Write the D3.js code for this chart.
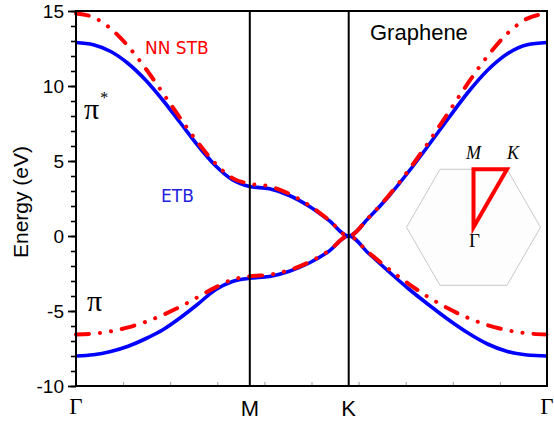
<!DOCTYPE html>
<html>
<head>
<meta charset="utf-8">
<script src="https://cdn.jsdelivr.net/npm/d3@7"></script>
<style>
  html, body { margin: 0; padding: 0; background: #fff; }
  svg { display: block; }
</style>
</head>
<body>
<svg id="chart" width="554" height="424"></svg>
<script>
// Path coordinate along Γ → M → K → Γ (0 = Γ, 1 = Γ)
const kPath = [
  0, 0.0369, 0.0738, 0.1107, 0.1476, 0.1845, 0.2214, 0.2583, 0.2952, 0.3321, 0.369,
  0.411, 0.453, 0.495, 0.537, 0.579,
  0.6211, 0.6632, 0.7053, 0.7474, 0.7895, 0.8316, 0.8737, 0.9158, 0.9579, 1.0
];

// Nearest-neighbour simple tight binding (eV)
const stbUpper = [
  14.84, 14.58, 13.82, 12.65, 11.17, 9.53, 7.85, 6.25, 4.86, 3.86, 3.48,
  3.31, 2.81, 2.04, 1.07, 0,
  1.22, 2.67, 4.35, 6.20, 8.18, 10.16, 11.99, 13.50, 14.49, 14.84
];
const stbLower = [
  -6.56, -6.51, -6.35, -6.09, -5.73, -5.26, -4.71, -4.08, -3.44, -2.91, -2.69,
  -2.58, -2.27, -1.74, -0.98, 0,
  -1.10, -2.18, -3.17, -4.06, -4.82, -5.45, -5.94, -6.28, -6.49, -6.56
];

// Extended tight binding (eV)
const etbUpper = [
  12.9, 12.75, 12.3, 11.5, 10.4, 9.05, 7.55, 6.05, 4.72, 3.75, 3.3,
  3.15, 2.7, 1.98, 1.04, 0,
  1.2, 2.62, 4.25, 6.0, 7.8, 9.55, 11.05, 12.15, 12.75, 12.9
];
const etbLower = [
  -8.0, -7.92, -7.7, -7.35, -6.85, -6.25, -5.45, -4.55, -3.6, -3.03, -2.82,
  -2.7, -2.35, -1.8, -1.02, 0,
  -1.15, -2.35, -3.5, -4.55, -5.55, -6.45, -7.2, -7.7, -7.93, -8.0
];

// High-symmetry points
const symLabels = ["Γ", "M", "K", "Γ"];
const symK = [0, 0.369, 0.579, 1];

const yTicks = [-10, -5, 0, 5, 10, 15];
const yMinorTicks = d3.range(-10, 15.5, 1);
const xMinorTicks = d3.range(1, 10).map(i => i / 10);

const svg = d3.select("#chart");
const plotLeft = 76, plotRight = 547, plotTop = 11, plotBottom = 386;

const x = d3.scaleLinear().domain([0, 1]).range([plotLeft, plotRight]);
const y = d3.scaleLinear().domain([-10, 15]).range([plotBottom, plotTop]);

const line = (arr) => d3.line()
  .x((d, i) => x(kPath[i]))
  .y(d => y(d))
  .curve(d3.curveMonotoneX)(arr);

const curves = svg.append("g").attr("fill", "none");
[etbUpper, etbLower].forEach(arr => {
  curves.append("path")
    .attr("d", line(arr))
    .attr("stroke", "#0000ff")
    .attr("stroke-width", 3.6);
});
[stbUpper, stbLower].forEach(arr => {
  curves.append("path")
    .attr("d", line(arr))
    .attr("stroke", "#ff0000")
    .attr("stroke-width", 4)
    .attr("stroke-linecap", "round")
    .attr("stroke-dasharray", "13,11,0.1,11,0.1,11");
});

// vertical lines at M and K
svg.append("g").selectAll("line")
  .data(symK.slice(1, 3))
  .join("line")
  .attr("x1", d => x(d)).attr("x2", d => x(d))
  .attr("y1", y(15)).attr("y2", y(-10))
  .attr("stroke", "#000").attr("stroke-width", 2);

// y axis: major and minor ticks
const yMinor = svg.append("g")
  .attr("transform", `translate(${plotLeft},0)`)
  .call(d3.axisLeft(y).tickValues(yMinorTicks).tickSize(5).tickFormat(""));
yMinor.select(".domain").remove();
yMinor.selectAll(".tick line").attr("stroke", "#000").attr("stroke-width", 1.6);

const yMajor = svg.append("g")
  .attr("transform", `translate(${plotLeft},0)`)
  .call(d3.axisLeft(y).tickValues(yTicks).tickSize(8).tickPadding(4).tickFormat(d => String(d)));
yMajor.select(".domain").remove();
yMajor.selectAll(".tick line").attr("stroke", "#000").attr("stroke-width", 1.8);
yMajor.selectAll(".tick text")
  .attr("font-family", "'Liberation Sans', Arial, sans-serif")
  .attr("font-size", 19)
  .attr("fill", "#000");

// bottom minor ticks (inside)
const xMinor = svg.append("g")
  .attr("transform", `translate(0,${plotBottom})`)
  .call(d3.axisBottom(x).tickValues(xMinorTicks).tickSize(-4).tickFormat(""));
xMinor.select(".domain").remove();
xMinor.selectAll(".tick line").attr("stroke", "#999").attr("stroke-width", 1);

// frame
svg.append("rect")
  .attr("x", plotLeft).attr("y", plotTop)
  .attr("width", plotRight - plotLeft).attr("height", plotBottom - plotTop)
  .attr("fill", "none").attr("stroke", "#000").attr("stroke-width", 2);

// high-symmetry labels
svg.append("g").selectAll("text")
  .data(symLabels.map((s, i) => ({ s, k: symK[i] })))
  .join("text")
  .attr("x", d => x(d.k))
  .attr("y", d => d.s === "Γ" ? 414 : 416)
  .attr("text-anchor", "middle")
  .attr("font-family", d => d.s === "Γ" ? "'Liberation Serif', 'Times New Roman', serif" : "'Liberation Sans', Arial, sans-serif")
  .attr("font-size", d => d.s === "Γ" ? 23 : 22)
  .text(d => d.s);

// y axis title
svg.append("text")
  .attr("transform", "translate(28,202) rotate(-90)")
  .attr("text-anchor", "middle")
  .attr("font-family", "'Liberation Sans', Arial, sans-serif")
  .attr("font-size", 21)
  .text("Energy (eV)");

// annotations
svg.append("text")
  .attr("x", 370).attr("y", 40)
  .attr("font-family", "'Liberation Sans', Arial, sans-serif")
  .attr("font-size", 22)
  .text("Graphene");

svg.append("text")
  .attr("x", 145).attr("y", 54)
  .attr("font-family", "'DejaVu Sans', sans-serif")
  .attr("font-size", 17)
  .attr("fill", "#ff0000")
  .text("NN STB");

svg.append("text")
  .attr("x", 161).attr("y", 202)
  .attr("font-family", "'DejaVu Sans', sans-serif")
  .attr("font-size", 17)
  .attr("fill", "#2222dd")
  .text("ETB");

const piStar = svg.append("text")
  .attr("x", 84).attr("y", 119)
  .attr("font-family", "'Liberation Serif', 'Times New Roman', serif")
  .attr("font-size", 30);
piStar.append("tspan").text("π");
piStar.append("tspan").attr("font-size", 16).attr("dy", -16).attr("dx", 1).text("*");

svg.append("text")
  .attr("x", 87).attr("y", 311)
  .attr("font-family", "'Liberation Serif', 'Times New Roman', serif")
  .attr("font-size", 30)
  .text("π");

// Brillouin zone inset
const bz = svg.append("g").attr("transform", "translate(473.5,227.3)");
const R = 67;
const hex = d3.range(6).map(i => [R * Math.cos(i * Math.PI / 3), R * Math.sin(i * Math.PI / 3)]);
bz.append("polygon")
  .attr("points", hex.map(p => p.join(",")).join(" "))
  .attr("fill", "#fdfdfd")
  .attr("stroke", "#c8c8c8")
  .attr("stroke-width", 1);

const hy = -R * Math.sqrt(3) / 2;
bz.append("polygon")
  .attr("points", [[0, 0], [0, hy], [R / 2, hy]].map(p => p.join(",")).join(" "))
  .attr("fill", "none")
  .attr("stroke", "#ff0000")
  .attr("stroke-width", 4)
  .attr("stroke-linejoin", "miter");

const bzFont = "'Liberation Serif', 'Times New Roman', serif";
bz.append("text").attr("x", 0).attr("y", hy - 10)
  .attr("text-anchor", "middle").attr("font-family", bzFont)
  .attr("font-style", "italic").attr("font-size", 18).text("M");
bz.append("text").attr("x", R / 2 + 6).attr("y", hy - 10)
  .attr("text-anchor", "middle").attr("font-family", bzFont)
  .attr("font-style", "italic").attr("font-size", 18).text("K");
bz.append("text").attr("x", 1).attr("y", 20)
  .attr("text-anchor", "middle").attr("font-family", bzFont)
  .attr("font-size", 19).text("Γ");
</script>
</body>
</html>
